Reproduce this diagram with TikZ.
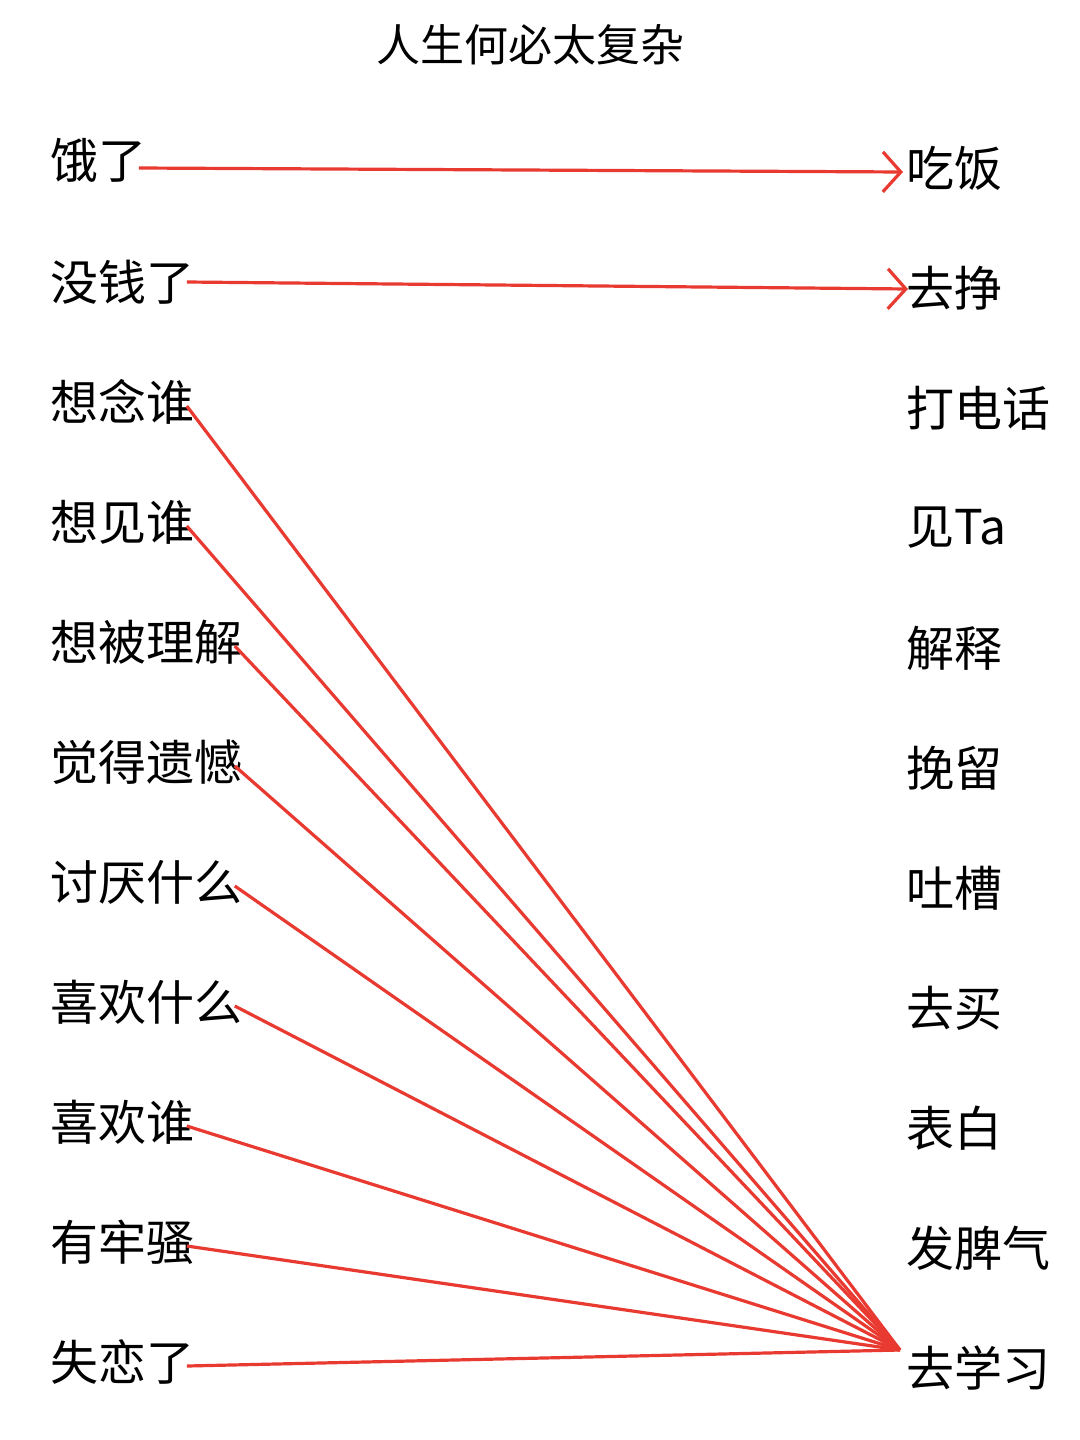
\documentclass[tikz,border=0pt]{standalone}
\usepackage{fontspec}
\setmainfont{Noto Sans CJK SC}
\usetikzlibrary{arrows.meta}
\definecolor{lred}{RGB}{232,58,48}
\begin{document}
\begin{tikzpicture}[x=0.5pt,y=-0.5pt,
  lbl/.style={font=\fontsize{24}{26}\selectfont,inner sep=0pt,anchor=west},
  con/.style={draw=lred,line width=1.6pt,-{Straight Barb[length=9pt,width=20pt,line width=1.6pt]}},
  con2/.style={draw=lred,line width=1.6pt}]
\useasboundingbox (0,0) rectangle (1080,1440);
\node[font=\fontsize{22}{24}\selectfont,inner sep=0pt] (title) at (530,45) {人生何必太复杂};
\foreach \n/\t/\y in {l1/饿了/160,l2/没钱了/282,l3/想念谁/402,l4/想见谁/522,l5/想被理解/642,l6/觉得遗憾/762,l7/讨厌什么/882,l8/喜欢什么/1002,l9/喜欢谁/1122,l10/有牢骚/1242,l11/失恋了/1362}
  \node[lbl] (\n) at (50,\y) {\t};
\foreach \n/\t/\y in {r1/吃饭/168,r2/去挣/288,r3/打电话/408,r4/见Ta/528,r5/解释/648,r6/挽留/768,r7/吐槽/888,r8/去买/1008,r9/表白/1128,r10/发脾气/1248,r11/去学习/1368}
  \node[lbl] (\n) at (906,\y) {\t};
\coordinate (c1) at (903,172);
\coordinate (c2) at (908,289);
\coordinate (c) at (900,1350);
\draw[con] ([xshift=-4pt,yshift=-4pt]l1.east) -- (c1);
\draw[con] ([xshift=-4pt]l2.east) -- (c2);
\foreach \n in {l3,l4,l5,l6,l7,l8,l9,l10,l11}
  \draw[con2] ([xshift=-4pt,yshift=-2pt]\n.east) -- (c);
\end{tikzpicture}
\end{document}
